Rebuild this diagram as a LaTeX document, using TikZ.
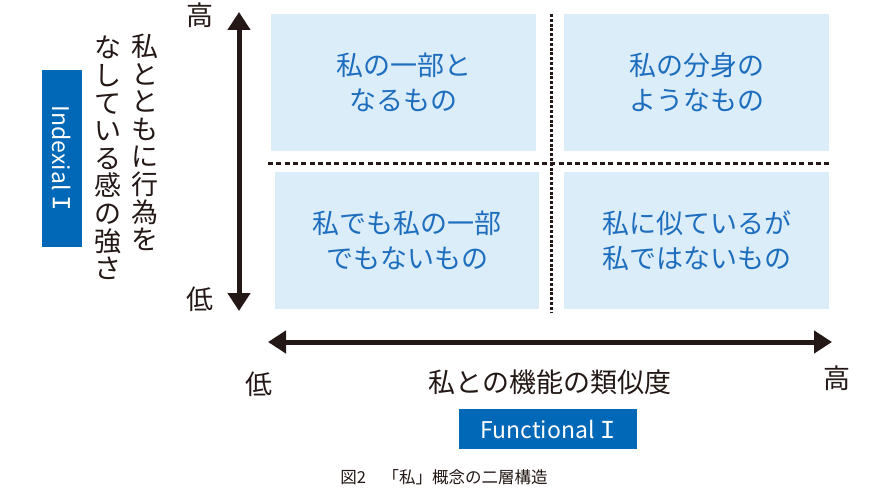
\documentclass[tikz,border=0pt]{standalone}
\usepackage{fontspec}
\setmainfont{Noto Sans CJK JP}
\newfontfamily\romanI{Liberation Mono}
\usetikzlibrary{arrows.meta}
\definecolor{qfill}{HTML}{DCEDFA}
\definecolor{qtext}{HTML}{1E6EBE}
\definecolor{lblue}{HTML}{0068B6}
\definecolor{ink}{HTML}{231815}
\newcommand{\numI}{{\romanI\fontsize{26}{26}\selectfont I}}
\begin{document}
\begin{tikzpicture}[x=1pt,y=-1pt,
 quad/.style={fill=qfill, text=qtext, minimum height=137pt, inner sep=0pt, align=center, font=\fontsize{27}{35}\selectfont},
 labelbox/.style={fill=lblue, text=white, inner sep=0pt, minimum height=40pt, font=\fontsize{23}{23}\selectfont},
 axislbl/.style={text=ink, inner sep=0pt, font=\fontsize{27}{27}\selectfont},
 vcol/.style={text=ink, inner sep=0pt, align=center, font=\fontsize{27}{27.6}\selectfont},
 axisarrow/.style={draw=ink, line width=5pt, {Triangle[length=18pt,width=22pt]}-{Triangle[length=18pt,width=22pt]}},
 seph/.style={draw=ink, line width=3pt, dash pattern=on 5pt off 3.3pt},
 sepv/.style={draw=ink, line width=3pt, dash pattern=on 3pt off 1.8pt},
]
\useasboundingbox (0,0) rectangle (890,500);
% quadrants
\node[quad, minimum width=265pt] (tl) at (403.5,82.5) {私の一部と\\なるもの};
\node[quad, minimum width=265pt] (tr) at (696.5,82.5) {私の分身の\\ようなもの};
\node[quad, minimum width=264pt] (bl) at (407,240.5) {私でも私の一部\\でもないもの};
\node[quad, minimum width=265pt] (br) at (696.5,240.5) {私に似ているが\\私ではないもの};
% separators
\coordinate (hs1) at (268,163);
\coordinate (hs2) at (831,163);
\coordinate (vs1) at (551,14);
\coordinate (vs2) at (551,312);
\draw[seph] (hs1) -- (hs2);
\draw[sepv] (vs1) -- (vs2);
% axes
\coordinate (va1) at (239,12);
\coordinate (va2) at (239,311);
\coordinate (ha1) at (268,342);
\coordinate (ha2) at (832,342);
\draw[axisarrow] (va1) -- (va2);
\draw[axisarrow] (ha1) -- (ha2);
% axis labels
\node[axislbl] (vhigh) at (200,15) {高};
\node[axislbl] (vlow) at (200,299) {低};
\node[axislbl] (hlow) at (259,384) {低};
\node[axislbl] (hhigh) at (837,378) {高};
\node[axislbl] (htitle) at (550,382) {私との機能の類似度};
\node[vcol] (vtitle1) at (144.5,142.5) {私\\と\\と\\も\\に\\行\\為\\を};
\node[vcol] (vtitle2) at (108,158) {な\\し\\て\\い\\る\\感\\の\\強\\さ};
% label boxes
\node[labelbox, minimum width=178pt] (func) at (548,429) {Functional \numI};
\node[labelbox, minimum width=177pt, rotate=-90] (index) at (62,158.5) {Indexial \numI};
% caption
\node[text=ink, inner sep=0pt, font=\fontsize{16.5}{16.5}\selectfont] (caption) at (444,477) {図2　「私」概念の二層構造};
\end{tikzpicture}
\end{document}
